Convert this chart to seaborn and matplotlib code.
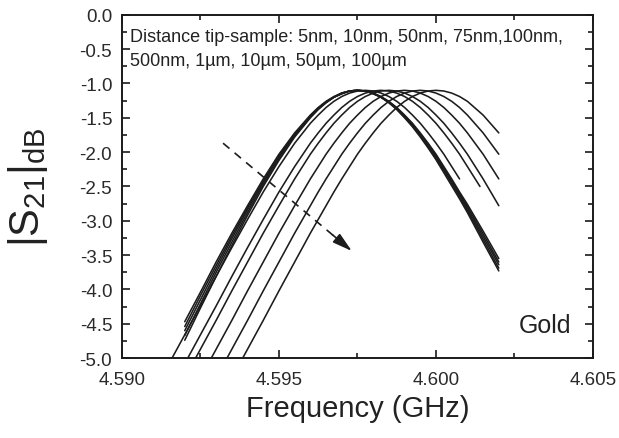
import numpy as np
import pandas as pd
import matplotlib
matplotlib.use("Agg")
import matplotlib.pyplot as plt
from matplotlib.ticker import MultipleLocator, FormatStrFormatter
import seaborn as sns

# ---- data ----
FREQ = [4.5910, 4.5915, 4.5920, 4.5925, 4.5930, 4.5935, 4.5940, 4.5945, 4.5950, 4.5955,
        4.5960, 4.59625, 4.5965, 4.59675, 4.5970, 4.59725, 4.5975, 4.59775, 4.5980, 4.59825,
        4.5985, 4.59875, 4.5990, 4.59925, 4.5995, 4.59975, 4.6000, 4.60025, 4.6005, 4.60075,
        4.6010, 4.6014, 4.6015, 4.6020]

N = None
B1 = [N, N, -4.47, -4.04, -3.60, -3.18, -2.78, -2.39, -2.03, -1.72, -1.46, -1.35, -1.26, -1.19, -1.14, -1.11,
      -1.10, -1.11, -1.14, -1.19, -1.26, -1.35, -1.46, -1.58, -1.72, -1.87, -2.03, -2.21, -2.39, -2.58, -2.76, N, -3.15, -3.55]
B2 = [N, N, -4.54, -4.09, -3.65, -3.22, -2.81, -2.42, -2.05, -1.74, -1.47, -1.36, -1.27, -1.20, -1.14, -1.11,
      -1.10, -1.11, -1.14, -1.20, -1.27, -1.36, -1.47, -1.59, -1.74, -1.89, -2.05, -2.23, -2.42, -2.60, -2.79, N, -3.19, -3.60]
B3 = [N, N, -4.60, -4.15, -3.70, -3.26, -2.84, -2.44, -2.07, -1.75, -1.48, -1.37, -1.27, -1.20, -1.14, -1.11,
      -1.10, -1.11, -1.14, -1.20, -1.27, -1.37, -1.48, -1.61, -1.75, -1.91, -2.07, -2.25, -2.43, -2.62, -2.82, N, -3.23, -3.64]
B4 = [N, N, -4.67, -4.21, -3.75, -3.31, -2.88, -2.47, -2.10, -1.76, -1.49, -1.37, -1.28, -1.20, -1.15, -1.11,
      -1.10, -1.11, -1.15, -1.20, -1.28, -1.37, -1.49, -1.62, -1.76, -1.92, -2.09, -2.27, -2.46, -2.65, -2.85, N, -3.27, -3.69]
B5 = [N, N, -4.74, -4.27, -3.81, -3.36, -2.92, -2.50, -2.12, -1.78, -1.50, -1.38, -1.28, -1.20, -1.15, -1.11,
      -1.10, -1.11, -1.15, -1.20, -1.28, -1.38, -1.50, -1.63, -1.78, -1.94, -2.11, -2.30, -2.49, -2.68, -2.88, N, -3.31, -3.73]
C1 = [N, -5.08, -4.66, -4.24, -3.81, -3.39, -2.98, -2.58, -2.21, -1.87, -1.58, -1.46, -1.35, -1.26, -1.19, -1.14,
      -1.11, -1.10, -1.11, -1.14, -1.19, -1.26, -1.35, -1.46, -1.58, -1.72, -1.87, -2.03, -2.21, -2.39, N, N, N, N]
C2 = [N, N, -5.08, -4.66, -4.24, -3.81, -3.39, -2.98, -2.58, -2.21, -1.87, -1.72, -1.58, -1.46, -1.35, -1.26,
      -1.19, -1.14, -1.11, -1.10, -1.11, -1.14, -1.19, -1.26, -1.35, -1.46, -1.58, -1.72, -1.87, -2.03, -2.21, -2.50, N, N]
C3 = [N, N, -5.29, -4.87, -4.45, -4.02, -3.60, -3.18, -2.78, -2.39, -2.03, -1.87, -1.72, -1.58, -1.46, -1.35,
      -1.26, -1.19, -1.14, -1.11, -1.10, -1.11, -1.14, -1.19, -1.26, -1.35, -1.46, -1.58, -1.72, -1.87, -2.03, N, -2.39, -2.78]
C4 = [N, N, N, -5.29, -4.87, -4.45, -4.02, -3.60, -3.18, -2.78, -2.39, -2.21, -2.03, -1.87, -1.72, -1.58,
      -1.46, -1.35, -1.26, -1.19, -1.14, -1.11, -1.10, -1.11, -1.14, -1.19, -1.26, -1.35, -1.46, -1.58, -1.72, N, -2.03, -2.39]
C5 = [N, N, N, N, -5.29, -4.87, -4.45, -4.02, -3.60, -3.18, -2.78, -2.58, -2.39, -2.21, -2.03, -1.87,
      -1.72, -1.58, -1.46, -1.35, -1.26, -1.19, -1.14, -1.11, -1.10, -1.11, -1.14, -1.19, -1.26, -1.35, -1.46, N, -1.72, -2.03]
C6 = [N, N, N, N, N, -5.29, -4.87, -4.45, -4.02, -3.60, -3.18, -2.98, -2.78, -2.58, -2.39, -2.21,
      -2.03, -1.87, -1.72, -1.58, -1.46, -1.35, -1.26, -1.19, -1.14, -1.11, -1.10, -1.11, -1.14, -1.19, -1.26, N, -1.46, -1.72]

CURVES = {"B1": B1, "B2": B2, "B3": B3, "B4": B4, "B5": B5,
          "C1": C1, "C2": C2, "C3": C3, "C4": C4, "C5": C5, "C6": C6}

XTICKS = [4.590, 4.595, 4.600, 4.605]
YTICKS = [0.0, -0.5, -1.0, -1.5, -2.0, -2.5, -3.0, -3.5, -4.0, -4.5, -5.0]

ANNOT_LINE1 = "Distance tip-sample: 5nm, 10nm, 50nm, 75nm,100nm,"
ANNOT_LINE2 = "500nm, 1\u00b5m, 10\u00b5m, 50\u00b5m, 100\u00b5m"
MATERIAL = "Gold"

# ---- long-form table ----
rows = []
for name, vals in CURVES.items():
    for f, v in zip(FREQ, vals):
        if v is not None:
            rows.append({"curve": name, "freq": f, "s21": v})
df = pd.DataFrame(rows)

sns.set_theme(style="ticks")
plt.rcParams["font.family"] = ["Liberation Sans", "DejaVu Sans"]
plt.rcParams["axes.unicode_minus"] = False
plt.rcParams["mathtext.fontset"] = "custom"
plt.rcParams["mathtext.rm"] = "Liberation Sans"
plt.rcParams["mathtext.it"] = "Liberation Sans:italic"

fig = plt.figure(figsize=(6.19, 4.39), dpi=100)
ax = fig.add_axes([0.197, 0.182, 0.761, 0.782])

sns.lineplot(data=df, x="freq", y="s21", units="curve", estimator=None,
             color="#1c1c1c", linewidth=1.15, legend=False, sort=False, ax=ax)

ax.set_xlim(4.590, 4.605)
ax.set_ylim(-5.0, 0.0)
ax.set_xticks(XTICKS)
ax.set_yticks(YTICKS)
ax.xaxis.set_major_formatter(FormatStrFormatter("%.3f"))
ax.yaxis.set_major_formatter(FormatStrFormatter("%.1f"))
ax.xaxis.set_minor_locator(MultipleLocator(0.0025))
ax.yaxis.set_minor_locator(MultipleLocator(0.25))
ax.tick_params(which="both", direction="in", top=True, right=True, colors="#1a1a1a",
               labelcolor="#2a2a2a", width=1.2)
ax.tick_params(which="major", length=6, labelsize=13.5)
ax.tick_params(axis="x", which="major", pad=9)
ax.tick_params(axis="y", which="major", pad=7)
ax.tick_params(which="minor", length=3.5)
for s in ax.spines.values():
    s.set_linewidth(1.4)
    s.set_color("#1a1a1a")

ax.set_xlabel("Frequency (GHz)", fontsize=21, color="#222222")
ax.set_ylabel(r"$|\mathrm{S}_{21}|_{\mathrm{dB}}$", fontsize=30, color="#222222")
ax.xaxis.set_label_coords(0.5, -0.105)
ax.yaxis.set_label_coords(-0.153, 0.5)

ax.text(0.017, 0.936, ANNOT_LINE1, transform=ax.transAxes, fontsize=13, color="#222222", va="center")
ax.text(0.017, 0.868, ANNOT_LINE2, transform=ax.transAxes, fontsize=13, color="#222222", va="center")
ax.text(0.843, 0.095, MATERIAL, transform=ax.transAxes, fontsize=18, color="#222222", va="center")

# dashed arrow
x0, y0 = 4.59322, -1.87
x1, y1 = 4.59732, -3.44
ax.plot([x0, x0 + 0.9 * (x1 - x0)], [y0, y0 + 0.9 * (y1 - y0)], ls=(0, (5, 4)), color="#1c1c1c", lw=1.2)
ax.annotate("", xy=(x1, y1), xytext=(x0 + 0.85 * (x1 - x0), y0 + 0.85 * (y1 - y0)),
            arrowprops=dict(arrowstyle="-|>,head_length=1.0,head_width=0.28", color="#1c1c1c", lw=1.2,
                            shrinkA=0, shrinkB=0))

fig.savefig("out.png", dpi=100)
